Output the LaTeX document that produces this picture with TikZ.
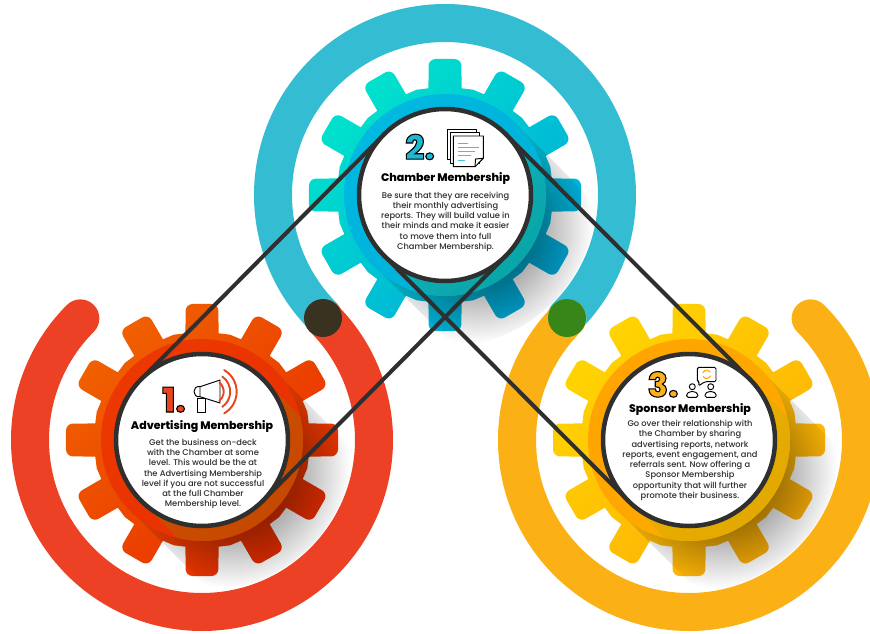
\documentclass[tikz,border=0pt]{standalone}
\usepackage{fontspec}
\setmainfont{Poppins Medium}
\newfontfamily\heavy{Poppins ExtraBold}
\usetikzlibrary{fadings}
\tikzfading[name=shadowfade, inner color=transparent!28, outer color=transparent!100]
\definecolor{linecol}{HTML}{2F2F2F}
\definecolor{ringB}{HTML}{34BDD2}\definecolor{ringR}{HTML}{EC4125}\definecolor{ringY}{HTML}{FBB116}
\definecolor{bGa}{HTML}{00E2CC}\definecolor{bGb}{HTML}{00A8DA}\definecolor{bDa}{HTML}{00B8E0}\definecolor{bDb}{HTML}{00B0D8}\definecolor{bCa}{HTML}{14B4C0}\definecolor{bCb}{HTML}{009C98}
\definecolor{rGa}{HTML}{F06000}\definecolor{rGb}{HTML}{E82C00}\definecolor{rDa}{HTML}{EC3800}\definecolor{rDb}{HTML}{E83000}\definecolor{rCa}{HTML}{D05000}\definecolor{rCb}{HTML}{BE4400}
\definecolor{yGa}{HTML}{FFD400}\definecolor{yGb}{HTML}{FDAE08}\definecolor{yDa}{HTML}{FFA400}\definecolor{yDb}{HTML}{FFAA00}\definecolor{yCa}{HTML}{F0B000}\definecolor{yCb}{HTML}{D8A400}
\definecolor{dotA}{HTML}{3A3220}\definecolor{dotB}{HTML}{38861A}
\definecolor{cyanline}{HTML}{3DC4D8}\definecolor{orangeline}{HTML}{E8441F}\definecolor{syncline}{HTML}{F9B020}
\newcommand\gearpath{
  (-8.8:108) \foreach \a in {0,30,...,330} {
    [sharp corners] -- ({\a-8.8}:108)
    [rounded corners=7pt] -- ({\a-6.9}:137) -- ({\a+6.9}:137)
    [sharp corners] -- ({\a+8.8}:108) -- ({\a+15}:109)
  } -- cycle
}
\newcommand\gearunit[4]{% cx cy name colourprefix
  \begin{scope}[shift={(#1,#2)}]
    \shade[left color=#4Ga, right color=#4Gb, shading angle=45] \gearpath;
    \begin{scope}
      \clip (0,0) circle (152);
      \clip (71,-71) -- (271,129) -- (129,271) -- (-71,71) -- cycle;
      \fill[black, path fading=shadowfade] (-88,-88) rectangle (148,148);
    \end{scope}
    \shade[left color=#4Da, right color=#4Db, shading angle=45] (0,0) circle (101);
    \begin{scope}
      \clip (0,0) circle (101);
      \shade[left color=#4Ca, right color=#4Cb, shading angle=45] (61,-61) -- (171,49) -- (49,171) -- (-61,61) -- cycle;
    \end{scope}
  \end{scope}
  \node[disc] (#3) at (#1,#2) {};
}
\newcommand\outlined[2]{\special{pdf:code q 2 Tr 1.1 w 0 0 0 RG #1 rg}#2\special{pdf:code Q}}
\tikzset{
  disc/.style={circle, draw=linecol, line width=4.5pt, fill=white, minimum size=172pt, inner sep=0pt, outer sep=0pt},
  ringarc/.style={line width=38pt, line cap=round},
  band/.style={draw=linecol, line width=4pt},
  dot/.style={circle, minimum size=38pt, inner sep=0pt, outer sep=0pt},
  title/.style={font=\heavy\fontsize{11}{12}\selectfont, text=black, inner sep=0pt},
  body/.style={font=\fontsize{8.3}{10.25}\selectfont, text=black!82, align=center, inner sep=0pt},
  numeral/.style={font=\heavy\fontsize{34}{34}\selectfont, inner sep=0pt, anchor=base, text height=24pt, text depth=0pt},
  icon/.style={draw=black, line width=0.95pt, line join=round},
  accent/.style={line width=1pt},
}
\begin{document}
\begin{tikzpicture}[x=1pt,y=-1pt]
\useasboundingbox (0,0) rectangle (870,634);
% rings
\draw[ringarc, color=ringB] (445,195) ++(135:172) arc (135:405:172);
\draw[ringarc, color=ringR] (202,440) ++(-45:172) arc (-45:225:172);
\draw[ringarc, color=ringY] (689,440) ++(225:172) arc (225:-45:172);
% gears
\gearunit{445}{195}{c2}{b}
\gearunit{202}{440}{c1}{r}
\gearunit{689}{440}{c3}{y}
% connectors
\draw[band] (c1.135) -- (c2.135);
\draw[band] (c1.-45) -- (c2.-45);
\draw[band] (c2.45) -- (c3.45);
\draw[band] (c2.-135) -- (c3.-135);
% dots
\node[dot, fill=dotA] (d1) at (323,318) {};
\node[dot, fill=dotB] (d2) at (567,318) {};
% text
\node[title] (t2) at (445.5,178) {Chamber Membership};
\node[body] (b2) at (445.5,221.7) {Be sure that they are receiving\\their monthly advertising\\reports. They will build value in\\their minds and make it easier\\to move them into full\\Chamber Membership.};
\node[title] (t1) at (202,427) {Advertising Membership};
\node[body] (b1) at (203,474) {Get the business on-deck\\with the Chamber at some\\level. This would be the at\\the Advertising Membership\\level if you are not successful\\at the full Chamber\\Membership level.};
\node[title] (t3) at (690,409.5) {Sponsor Membership};
\node[body] (b3) at (690,460.5) {Go over their relationship with\\the Chamber by sharing\\advertising reports, network\\reports, event engagement, and\\referrals sent. Now offering a\\Sponsor Membership\\opportunity that will further\\promote their business.};
% numerals
\node[numeral] (n2) at (420,159.5) {\outlined{0.12 0.72 0.82}{2.}};
\node[numeral] (n1) at (174,412) {\outlined{0.91 0.27 0.12}{1.}};
\node[numeral] (n3) at (663,397) {\outlined{0.98 0.69 0.13}{3.}};
% documents icon
\draw[icon, fill=white] (447,129) rectangle (476,159);
\draw[icon, fill=white] (450,132) rectangle (479.5,163);
\draw[icon, fill=white] (453.3,136) -- (483.3,136) -- (483.3,158.3) -- (475,166.7) -- (453.3,166.7) -- cycle;
\draw[icon] (483.3,158.3) -- (475.5,159) -- (475,166.7);
\draw[accent, cyanline] (457.7,143.3) -- (467.7,143.3);
\draw[accent, cyanline] (457.7,147.3) -- (479,147.3);
\draw[accent, cyanline] (457.7,151) -- (475,151);
\draw[accent, cyanline] (457.7,155) -- (470.7,155);
\draw[accent, cyanline] (457.7,160) -- (465,160);
% megaphone icon
\draw[icon, fill=white] (200,386.7) -- (220,380) -- (220,403) -- (200,396.7) -- cycle;
\draw[icon] (200,386.7) .. controls (192,385) and (192,398) .. (200,396.7);
\draw[icon, fill=white] (197.7,398.5) rectangle (205,412);
\draw[orangeline, line width=1.9pt, line cap=round] (211.7,391.7) ++(-50:12) arc (-50:50:12);
\draw[orangeline, line width=1.9pt, line cap=round] (211.7,391.7) ++(-55:18.5) arc (-55:55:18.5);
\draw[orangeline, line width=1.9pt, line cap=round] (211.7,391.7) ++(-60:25) arc (-60:60:25);
% people and chat icon
\draw[icon, rounded corners=1.5pt, fill=white] (697.3,367.3) -- (716,367.3) -- (716,381.7) -- (705,381.7) -- (698.3,386) -- (699.5,381.7) -- (697.3,381.7) -- cycle;
\draw[syncline, line width=1.2pt] (706.7,374.3) ++(200:4.2) arc (200:330:4.2);
\draw[syncline, line width=1.2pt] (706.7,374.3) ++(20:4.2) arc (20:150:4.2);
\draw[icon] (692.3,386.7) circle (3pt);
\draw[icon, rounded corners=1.5pt] (686.7,397.3) -- (686.7,393.5) -- (690.5,391.5) -- (694,391.5) -- (697.8,393.5) -- (697.8,397.3) -- cycle;
\draw[icon] (710.7,386.7) circle (3pt);
\draw[icon, rounded corners=1.5pt] (705,397.3) -- (705,393.5) -- (708.8,391.5) -- (712.3,391.5) -- (716.2,393.5) -- (716.2,397.3) -- cycle;
\end{tikzpicture}
\end{document}
